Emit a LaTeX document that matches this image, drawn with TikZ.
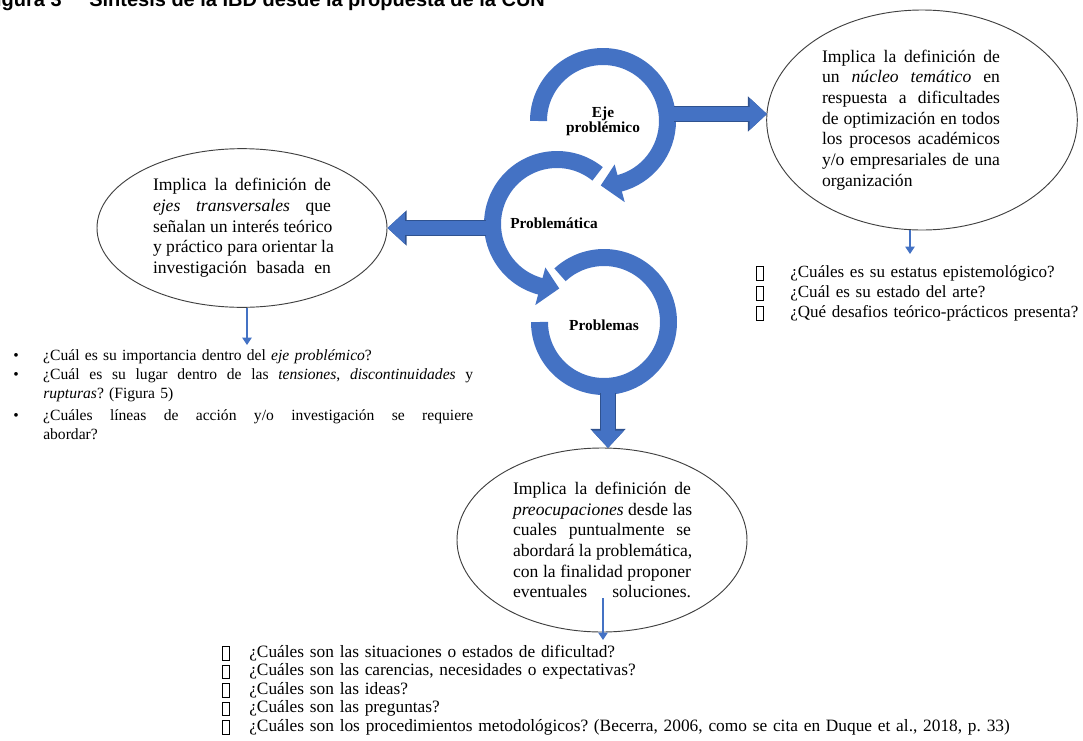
\documentclass[tikz,border=0pt]{standalone}
\usepackage{fontspec}
\setmainfont{Liberation Serif}
\newfontfamily\capfont{Liberation Sans}
\usetikzlibrary{shapes.geometric,arrows.meta,calc}
\frenchspacing

\definecolor{ringblue}{HTML}{4472C4}
\definecolor{ringedge}{HTML}{2F528F}

\newcommand{\spreadline}[2]{\leavevmode\hbox to #1{\spaceskip=0.25em plus 1fil\xspaceskip=\spaceskip\relax#2}}
\newcommand{\jl}[1]{\spreadline{133.5pt}{#1}}
\newcommand{\lostmark}{\raisebox{-2pt}{\setlength{\fboxsep}{0pt}\setlength{\fboxrule}{0.5pt}\fbox{\rule{0pt}{9.5pt}\hspace{4.5pt}}}}

\tikzset{
  ring/.style={draw=ringblue, line width=12.75pt},
  ringtip/.style={fill=ringblue},
  fatarrow/.style={draw=ringblue, line width=10.5pt, -{Triangle[length=13pt 0 0, width=23pt 0 0]},
    preaction={draw=ringedge, line width=12pt, -{Triangle[length=14.3pt 0 0, width=25.5pt 0 0]}}},
  thinarrow/.style={draw=ringblue, line width=0.8pt, -{Triangle[length=5.5pt 0 0, width=7pt 0 0]}},
  bubble/.style={ellipse, draw=black!75, line width=0.7pt, inner sep=0pt, font=\fontsize{13.2}{15.5}\selectfont},
  ringlabel/.style={font=\fontsize{11.5}{11.5}\selectfont\bfseries, align=center},
  qlist/.style={anchor=base west, inner sep=0pt, text width=#1},
  figtext/.style={font=\capfont\bfseries\fontsize{15}{15}\selectfont, inner sep=0pt}
}

\begin{document}
\begin{tikzpicture}[x=0.75pt, y=-0.75pt]
\useasboundingbox (0,0) rectangle (1083,740);

\node[figtext, anchor=base east] (figno) at (62,6) {Figura 3};
\node[figtext, anchor=base west] (figtitle) at (89,6) {Síntesis de la IBD desde la propuesta de la CUN};

\coordinate (ejeC) at (603,121);
\coordinate (probC) at (557,224);
\coordinate (probsC) at (604,322);

\draw[ring] (probsC) ++(227:64.5) arc[start angle=227, end angle=540, radius=64.5];
\draw[ring] (probC) ++(-51:64.5) arc[start angle=-51, end angle=-256, radius=64.5];
\path[ringtip] ($(probC)+(-255:45)$) -- ($(probC)+(-272:64.5)$) -- ($(probC)+(-255:84)$) -- cycle;
\draw[ring] (ejeC) ++(180:64.5) arc[start angle=180, end angle=436, radius=64.5];
\path[ringtip] ($(ejeC)+(75:45)$) -- ($(ejeC)+(92:64.5)$) -- ($(ejeC)+(75:84)$) -- cycle;

\node[ringlabel] (eje) at (ejeC) {Eje\\problémico};
\node[ringlabel] (probca) at ($(probC)+(-3,-1)$) {Problemática};
\node[ringlabel] (probs) at ($(probsC)+(0,3)$) {Problemas};

\node[bubble, minimum width=233pt, minimum height=165pt, text width=150pt] (nucleo) at (922,120) {%
\jl{Implica la definición de}\\
\jl{un \textit{núcleo temático} en}\\
\jl{respuesta a dificultades}\\
\jl{de optimización en todos}\\
\jl{los procesos académicos}\\
\jl{y/o empresariales de una}\\
organización};

\node[bubble, minimum width=217.5pt, minimum height=119pt, text width=133.5pt] (ejes) at (242,228) {%
\jl{Implica la definición de}\\
\jl{\textit{ejes transversales} que}\\
\jl{señalan un interés teórico}\\
\jl{y práctico para orientar la}\\
\jl{investigación basada en}};

\node[bubble, minimum width=217.5pt, minimum height=138pt, text width=133.5pt] (preoc) at (602,540) {%
\jl{Implica la definición de}\\
\jl{\textit{preocupaciones} desde las}\\
\jl{cuales puntualmente se}\\
\jl{abordará la problemática,}\\
\jl{con la finalidad proponer}\\
\jl{eventuales soluciones.}};

\coordinate (tipR) at (767,114);
\coordinate (tipD) at (608,448);
\draw[fatarrow] ($(ejeC)+(71,-7)$) -- (tipR);
\draw[fatarrow] ($(probC)+(-71,4)$) -- (ejes.east);
\draw[fatarrow] ($(probsC)+(4,71)$) -- (tipD);

\coordinate (tipL) at (247,345);
\coordinate (tipN) at (910,254);
\coordinate (fromP) at (603,598);
\coordinate (tipP) at (603,640);
\draw[thinarrow] (ejes.south -| tipL) -- (tipL);
\draw[thinarrow] (nucleo.south -| tipN) -- (tipN);
\draw[thinarrow] (fromP) -- (tipP);

\node[qlist=346pt, font=\fontsize{11.7}{14.25}\selectfont] (ejesq) at (13,360) {%
\makebox[22.5pt][l]{•}¿Cuál es su importancia dentro del \textit{eje problémico}?\\
\makebox[22.5pt][l]{•}\spreadline{322.5pt}{¿Cuál es su lugar dentro de las \textit{tensiones}, \textit{discontinuidades} y}\\
\hspace*{22.5pt}\textit{rupturas}? (Figura 5)\\[2.25pt]
\makebox[22.5pt][l]{•}\spreadline{322.5pt}{¿Cuáles líneas de acción y/o investigación se requiere}\\
\hspace*{22.5pt}abordar?};

\node[qlist=260pt, font=\fontsize{12.8}{15}\selectfont] (nucleoq) at (756,277) {%
\makebox[25.5pt][l]{\lostmark}¿Cuáles es su estatus epistemológico?\\
\makebox[25.5pt][l]{\lostmark}¿Cuál es su estado del arte?\\
\makebox[25.5pt][l]{\lostmark}¿Qué desafios teórico-prácticos presenta?};

\node[qlist=600pt, font=\fontsize{13}{13.9}\selectfont] (preocq) at (222,657) {%
\makebox[20.25pt][l]{\lostmark}¿Cuáles son las situaciones o estados de dificultad?\\
\makebox[20.25pt][l]{\lostmark}¿Cuáles son las carencias, necesidades o expectativas?\\
\makebox[20.25pt][l]{\lostmark}¿Cuáles son las ideas?\\
\makebox[20.25pt][l]{\lostmark}¿Cuáles son las preguntas?\\
\makebox[20.25pt][l]{\lostmark}¿Cuáles son los procedimientos metodológicos? (Becerra, 2006, como se cita en Duque et al., 2018, p. 33)};
\end{tikzpicture}
\end{document}
